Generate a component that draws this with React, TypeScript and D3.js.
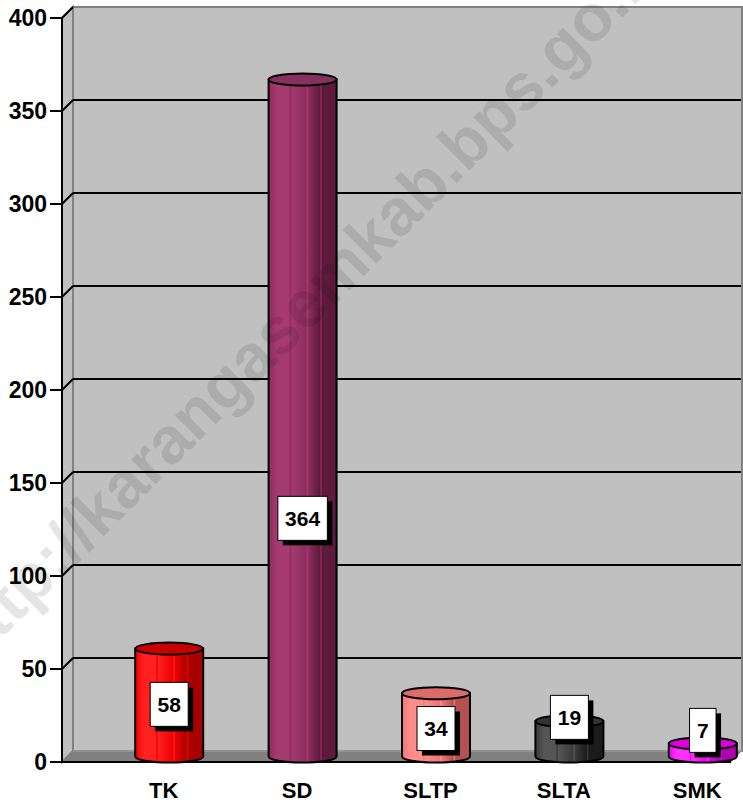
import { useEffect, useRef } from "react";
import * as d3 from "d3";

const categories = ["TK", "SD", "SLTP", "SLTA", "SMK"];
const values = [58, 364, 34, 19, 7];
// where each value box sits, in axis units
const labelLevels = [31, 131, 18, 24, 17];
const yTicks = [0, 50, 100, 150, 200, 250, 300, 350, 400];

const palette = [
  { light: "#ff2020", mid: "#ee0000", dark: "#a80000", top: "#c80000" },
  { light: "#a43a70", mid: "#8e2d5e", dark: "#5e1a3c", top: "#863060" },
  { light: "#ff8c8c", mid: "#f07474", dark: "#b45050", top: "#dc6c6c" },
  { light: "#555555", mid: "#3a3a3a", dark: "#1c1c1c", top: "#333333" },
  { light: "#ff30ff", mid: "#ee00ee", dark: "#b000b0", top: "#dd00dd" },
];

export default function App() {
  const svgRef = useRef<SVGSVGElement>(null);

  useEffect(() => {
    if (!svgRef.current) return;
    const svg = d3.select(svgRef.current);
    svg.selectAll("*").remove();

    const width = 743;
    const height = 803;
    const depthX = 11;
    const depthY = 11;
    const axisX = 62;
    const wallRight = 742;
    const font = "Arial, 'Liberation Sans', sans-serif";

    const y = d3.scaleLinear().domain([0, 400]).range([762, 18]);
    const x = d3.scaleBand().domain(categories).range([97, 764]);
    const base = y(0);

    svg.attr("width", width).attr("height", height);

    // gradients for the cylinders
    const defs = svg.append("defs");
    palette.forEach((p, i) => {
      const grad = defs
        .append("linearGradient")
        .attr("id", `cyl${i}`)
        .attr("x1", "0")
        .attr("x2", "1")
        .attr("y1", "0")
        .attr("y2", "0");
      const stops: [number, string][] = [
        [0, p.mid],
        [0.12, p.light],
        [0.3, p.light],
        [0.32, p.mid],
        [0.34, p.light],
        [0.55, p.mid],
        [0.57, p.light],
        [0.59, p.mid],
        [0.75, p.dark],
        [0.77, p.mid],
        [0.79, p.dark],
        [1, p.dark],
      ];
      stops.forEach(([o, c]) =>
        grad.append("stop").attr("offset", o).attr("stop-color", c)
      );
    });

    // back wall
    svg
      .append("rect")
      .attr("x", axisX + depthX)
      .attr("y", y(400) - depthY)
      .attr("width", wallRight - axisX - depthX)
      .attr("height", base - y(400))
      .attr("fill", "#c0c0c0")
      .attr("stroke", "#808080")
      .attr("stroke-width", 2);

    // side wall
    svg
      .append("path")
      .attr(
        "d",
        `M${axisX},${y(400)} L${axisX + depthX},${y(400) - depthY} L${axisX + depthX},${base - depthY} L${axisX},${base} Z`
      )
      .attr("fill", "#c0c0c0")
      .attr("stroke", "#808080")
      .attr("stroke-width", 2);

    // gridlines
    const grid = yTicks.filter((t) => t > 0 && t < 400);
    svg
      .append("g")
      .selectAll("line")
      .data(grid)
      .enter()
      .append("line")
      .attr("x1", axisX + depthX)
      .attr("x2", wallRight - 1)
      .attr("y1", (d) => y(d) - depthY)
      .attr("y2", (d) => y(d) - depthY)
      .attr("stroke", "#000")
      .attr("stroke-width", 2);
    svg
      .append("g")
      .selectAll("line")
      .data(yTicks.filter((t) => t > 0))
      .enter()
      .append("line")
      .attr("x1", axisX)
      .attr("x2", axisX + depthX)
      .attr("y1", (d) => y(d))
      .attr("y2", (d) => y(d) - depthY)
      .attr("stroke", "#000")
      .attr("stroke-width", 2);

    // floor
    svg
      .append("path")
      .attr(
        "d",
        `M${axisX},${base} L${axisX + depthX},${base - depthY} L${wallRight},${base - depthY} L${wallRight - depthX},${base} Z`
      )
      .attr("fill", "#808080");
    svg
      .append("line")
      .attr("x1", axisX + depthX)
      .attr("x2", wallRight)
      .attr("y1", base - depthY)
      .attr("y2", base - depthY)
      .attr("stroke", "#9a9a9a")
      .attr("stroke-width", 1.5);
    svg
      .append("line")
      .attr("x1", axisX)
      .attr("x2", wallRight - depthX)
      .attr("y1", base)
      .attr("y2", base)
      .attr("stroke", "#000")
      .attr("stroke-width", 2);

    // y axis
    svg
      .append("line")
      .attr("x1", axisX)
      .attr("x2", axisX)
      .attr("y1", y(400))
      .attr("y2", base)
      .attr("stroke", "#000")
      .attr("stroke-width", 2);
    const ticks = svg.append("g");
    ticks
      .selectAll("line")
      .data(yTicks)
      .enter()
      .append("line")
      .attr("x1", 50)
      .attr("x2", axisX)
      .attr("y1", (d) => y(d))
      .attr("y2", (d) => y(d))
      .attr("stroke", "#000")
      .attr("stroke-width", 2);
    ticks
      .selectAll("text")
      .data(yTicks)
      .enter()
      .append("text")
      .attr("x", 47)
      .attr("y", (d) => y(d))
      .attr("dy", "0.36em")
      .attr("text-anchor", "end")
      .attr("font-family", font)
      .attr("font-weight", "bold")
      .attr("font-size", 23)
      .attr("fill", "#000")
      .text((d) => d);

    // cylinders
    const r = 34;
    const ry = 6;
    const bars = svg.append("g");
    categories.forEach((c, i) => {
      const cx = (x(c) as number) + x.bandwidth() / 2 + depthX / 2;
      const yb = base - depthY / 2;
      const yt = y(values[i]) - depthY / 2;
      bars
        .append("path")
        .attr(
          "d",
          `M${cx - r},${yt} L${cx - r},${yb} A${r},${ry} 0 0 0 ${cx + r},${yb} L${cx + r},${yt} Z`
        )
        .attr("fill", `url(#cyl${i})`)
        .attr("stroke", "#000")
        .attr("stroke-width", 2);
      bars
        .append("ellipse")
        .attr("cx", cx)
        .attr("cy", yt)
        .attr("rx", r)
        .attr("ry", ry)
        .attr("fill", palette[i].top)
        .attr("stroke", "#000")
        .attr("stroke-width", 2);
    });

    // value boxes
    const labels = svg.append("g");
    categories.forEach((c, i) => {
      const cx = (x(c) as number) + x.bandwidth() / 2 + depthX / 2;
      const cy = y(labelLevels[i]);
      const txt = String(values[i]);
      const w = txt.length * 11.5 + 15;
      const h = 44;
      labels
        .append("rect")
        .attr("x", cx - w / 2 + 5)
        .attr("y", cy - h / 2 + 5)
        .attr("width", w)
        .attr("height", h)
        .attr("fill", "#000");
      labels
        .append("rect")
        .attr("x", cx - w / 2)
        .attr("y", cy - h / 2)
        .attr("width", w)
        .attr("height", h)
        .attr("fill", "#fff")
        .attr("stroke", "#000")
        .attr("stroke-width", 1);
      labels
        .append("text")
        .attr("x", cx)
        .attr("y", cy)
        .attr("dy", "0.36em")
        .attr("text-anchor", "middle")
        .attr("font-family", font)
        .attr("font-weight", "bold")
        .attr("font-size", 21)
        .attr("fill", "#000")
        .text(txt);
    });

    // category labels
    svg
      .append("g")
      .selectAll("text")
      .data(categories)
      .enter()
      .append("text")
      .attr("x", (d) => (x(d) as number) + x.bandwidth() / 2)
      .attr("y", 798)
      .attr("text-anchor", "middle")
      .attr("font-family", font)
      .attr("font-weight", "bold")
      .attr("font-size", 22)
      .attr("fill", "#000")
      .text((d) => d);

    // watermark
    svg
      .append("text")
      .attr("transform", "translate(-29,669) rotate(-45)")
      .attr("font-family", font)
      .attr("font-weight", "bold")
      .attr("font-size", 66)
      .attr("fill", "#000")
      .attr("fill-opacity", 0.1)
      .text("http://karangasemkab.bps.go.id");
  }, []);

  return (
    <svg
      ref={svgRef}
      style={{ position: "absolute", left: 0, top: 0, display: "block" }}
    ></svg>
  );
}
